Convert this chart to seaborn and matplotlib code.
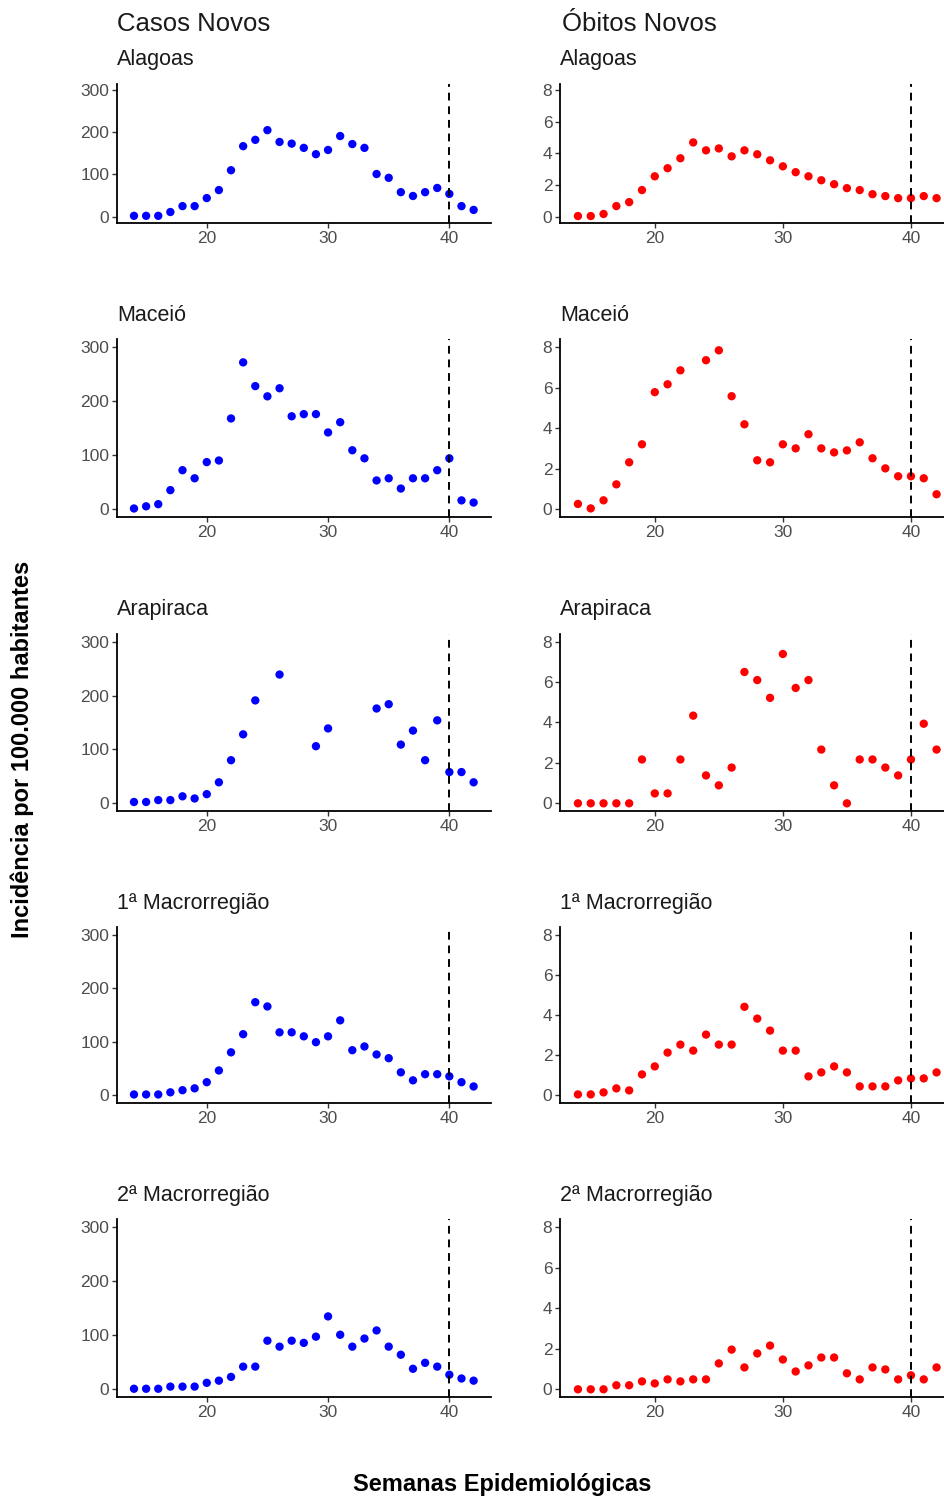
import numpy as np
import pandas as pd
import matplotlib
matplotlib.use("Agg")
import matplotlib.pyplot as plt
import seaborn as sns

weeks = list(range(14, 43))
regions = ["Alagoas", "Maceió", "Arapiraca", "1ª Macrorregião", "2ª Macrorregião"]
nan = np.nan

casos_alagoas = [2, 2, 2, 11, 25, 25, 44, 63, 110, 167, 182, 205, 177, 173, 163, 148, 158,
                 191, 172, 163, 101, 92, 58, 49, 58, 68, 54, 25, 16]
casos_maceio = [1, 5, 9, 35, 72, 57, 87, 90, 168, 272, 228, 209, 224, 172, 176, 176, 142,
                161, 109, 94, 53, 57, 38, 57, 57, 72, 94, 16, 12]
casos_arapiraca = [2.5, 2.5, 6, 6, 13, 9, 17, 39, 80, 128, 191, nan, 239, nan, nan, 106, 139,
                   nan, nan, nan, 176, 184, 109, 135, 80, 154, 58, 58, 39]
casos_macro1 = [1, 1, 1, 5, 9, 12.5, 24, 46, 80, 114, 174, 166, 117.5, 117.5, 110, 99, 110,
                140, 84, 91, 76, 69, 42.5, 27.5, 39, 39, 35, 24, 16]
casos_macro2 = [1, 1, 1, 5, 5, 5, 12, 16, 23, 42, 42, 90, 79, 90, 86, 97.5, 135,
                101, 79, 94, 109, 79, 64, 38, 49, 42, 27, 20, 16]

obitos_alagoas = [0.04, 0.04, 0.17, 0.67, 0.92, 1.68, 2.55, 3.06, 3.69, 4.69, 4.19, 4.31, 3.81,
                  4.19, 3.94, 3.56, 3.18, 2.81, 2.55, 2.30, 2.05, 1.80, 1.68, 1.42, 1.30, 1.17,
                  1.17, 1.30, 1.17]
obitos_maceio = [0.25, 0.03, 0.43, 1.22, 2.31, 3.2, 5.78, 6.17, 6.86, nan, 7.36, 7.85, 5.58,
                 4.19, 2.41, 2.31, 3.2, 3.0, 3.7, 3.0, 2.8, 2.9, 3.3, 2.51, 2.01, 1.62, 1.62,
                 1.52, 0.73]
obitos_arapiraca = [0, 0, 0, 0, 0, 2.17, 0.49, 0.49, 2.17, 4.34, 1.38, 0.89, 1.77, 6.5, 6.1,
                    5.22, 7.39, 5.71, 6.1, 2.66, 0.89, 0, 2.17, 2.17, 1.77, 1.38, 2.17, 3.94, 2.66]
obitos_macro1 = [0.03, 0.03, 0.13, 0.33, 0.23, 1.03, 1.43, 2.12, 2.52, 2.22, 3.02, 2.52, 2.52,
                 4.41, 3.82, 3.22, 2.22, 2.22, 0.93, 1.13, 1.43, 1.13, 0.43, 0.43, 0.43, 0.73,
                 0.83, 0.83, 1.13]
obitos_macro2 = [0, 0, 0, 0.2, 0.2, 0.39, 0.29, 0.49, 0.39, 0.49, 0.49, 1.28, 1.96, 1.08, 1.77,
                 2.16, 1.47, 0.88, 1.18, 1.57, 1.57, 0.79, 0.49, 1.08, 0.98, 0.49, 0.69, 0.49, 1.08]

casos = [casos_alagoas, casos_maceio, casos_arapiraca, casos_macro1, casos_macro2]
obitos = [obitos_alagoas, obitos_maceio, obitos_arapiraca, obitos_macro1, obitos_macro2]

casos_ticks = [0, 100, 200, 300]
obitos_ticks = [0, 2, 4, 6, 8]
x_ticks = [20, 30, 40]
ref_week = 40

sns.set_theme(style="white")
plt.rcParams['font.family'] = ['Liberation Sans', 'DejaVu Sans']

W, H = 945, 1500
fig = plt.figure(figsize=(W / 100, H / 100), dpi=100)

rows_px = [(83.7, 223.0), (339.2, 517.1), (633.6, 811.4), (927.0, 1103.0), (1219.2, 1397.4)]
cols_px = [(117.0, 373.6), (560.0, 394.5)]


def make_ax(col, row):
    x0, w = cols_px[col]
    top, bot = rows_px[row]
    return fig.add_axes([x0 / W, 1 - bot / H, w / W, (bot - top) / H])


for r, name in enumerate(regions):
    for c, (series, color, ticks, ylim) in enumerate([
            (casos[r], "#0000FF", casos_ticks, (-15, 315)),
            (obitos[r], "#FF0000", obitos_ticks, (-0.4, 8.4))]):
        ax = make_ax(c, r)
        df = pd.DataFrame({"semana": weeks, "valor": series}).dropna()
        sns.scatterplot(data=df, x="semana", y="valor", color=color, s=36,
                        edgecolor="none", linewidth=0, ax=ax, clip_on=False)
        ax.axvline(ref_week, color="#000000", linestyle=(0, (4, 3)), linewidth=1.4)
        ax.set_xlim(12.6, 43.4)
        ax.set_ylim(*ylim)
        ax.set_xticks(x_ticks)
        ax.set_yticks(ticks)
        ax.set_xlabel("")
        ax.set_ylabel("")
        for s in ["top", "right"]:
            ax.spines[s].set_visible(False)
        for s in ["left", "bottom"]:
            ax.spines[s].set_color("#000000")
            ax.spines[s].set_linewidth(1.3)
        ax.tick_params(axis="both", which="major", length=3.5, width=1.0, color="#333333",
                       labelcolor="#4D4D4D", labelsize=12.5, pad=2, left=True, bottom=True)
        top = rows_px[r][0]
        fig.text(cols_px[c][0] / W, 1 - (top - 24) / H, name, ha="left", va="center",
                 fontsize=15.5, color="#1A1A1A")

fig.text(117 / W, 1 - 24 / H, "Casos Novos", ha="left", va="center", fontsize=18.5, color="#1A1A1A")
fig.text(562 / W, 1 - 24 / H, "Óbitos Novos", ha="left", va="center", fontsize=18.5, color="#1A1A1A")

fig.text(22 / W, 1 - 749 / H, "Incidência por 100.000 habitantes", rotation=90, ha="center",
         va="center", fontsize=17, fontweight="bold", color="#000000")
fig.text(502 / W, 1 - 1485 / H, "Semanas Epidemiológicas", ha="center", va="center",
         fontsize=17, fontweight="bold", color="#000000")

fig.savefig("out.png", dpi=100)
